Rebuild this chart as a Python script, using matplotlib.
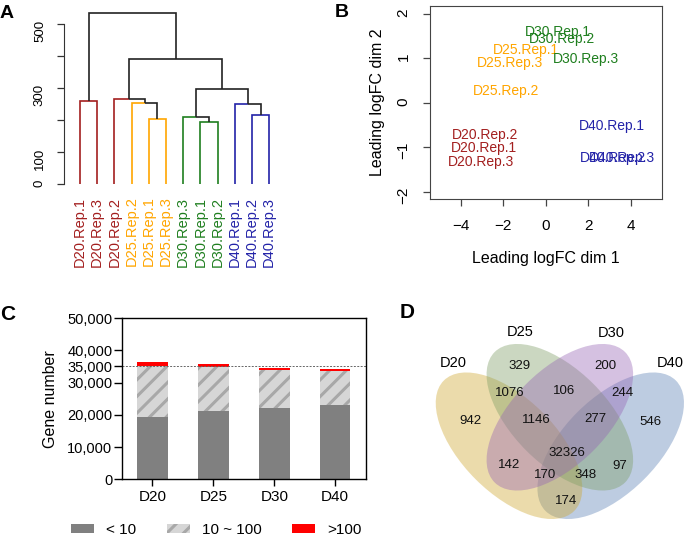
import matplotlib
matplotlib.use("Agg")
import matplotlib.pyplot as plt
import matplotlib.ticker as mticker
from matplotlib.patches import Ellipse, Patch
import numpy as np

plt.rcParams["font.family"] = ["Liberation Sans", "DejaVu Sans"]
plt.rcParams["hatch.color"] = "#A8A8A8"
plt.rcParams["hatch.linewidth"] = 2.2

# ---------------------------------------------------------------------------
# Data
# ---------------------------------------------------------------------------
groups = ["D20", "D25", "D30", "D40"]
group_colors = ["#A31F1F", "#FFA500", "#1F7F1F", "#2323A8"]
color_of = dict(zip(groups, group_colors))

# A - sample clustering (leaf order as drawn)
leaf_labels = ["D20.Rep.1", "D20.Rep.3", "D20.Rep.2", "D25.Rep.2", "D25.Rep.1",
               "D25.Rep.3", "D30.Rep.3", "D30.Rep.1", "D30.Rep.2", "D40.Rep.1",
               "D40.Rep.2", "D40.Rep.3"]
# (child a, child b, height); leaves are 0-11, merged nodes numbered from 12
merges = [(0, 1, 259), (4, 5, 203), (3, 13, 253), (2, 14, 267),
          (7, 8, 194), (6, 16, 209), (10, 11, 217), (9, 18, 249),
          (17, 19, 296), (15, 20, 390), (12, 21, 535)]

# B - MDS plot
mds_labels = ["D20.Rep.1", "D20.Rep.2", "D20.Rep.3", "D25.Rep.1", "D25.Rep.2",
              "D25.Rep.3", "D30.Rep.1", "D30.Rep.2", "D30.Rep.3", "D40.Rep.1",
              "D40.Rep.2", "D40.Rep.3"]
mds_dim1 = [-2.90, -2.86, -3.04, -0.95, -1.85, -1.66, 0.56, 0.77, 1.86, 3.11, 3.15, 3.55]
mds_dim2 = [-1.02, -0.73, -1.34, 1.19, 0.27, 0.89, 1.60, 1.43, 0.99, -0.52, -1.25, -1.25]

# C - gene numbers by expression level
genes_lt10 = np.array([19400, 21100, 22200, 23100])
genes_10_100 = np.array([15700, 13700, 11700, 10450])
genes_gt100 = np.array([1200, 900, 700, 600])
level_labels = ["< 10", "10 ~ 100", ">100"]

# D - Venn counts
venn_counts = [942, 329, 200, 546, 1076, 106, 244, 1146, 277, 32326,
               142, 97, 170, 348, 174]

# ---------------------------------------------------------------------------
# Layout helpers (pixel boxes, origin top-left)
# ---------------------------------------------------------------------------
W, H = 685, 537
fig = plt.figure(figsize=(W / 100, H / 100), dpi=100)


def px_axes(x0, y0, x1, y1):
    return fig.add_axes([x0 / W, 1 - y1 / H, (x1 - x0) / W, (y1 - y0) / H])


def letter(x, y, s, size):
    fig.text(x / W, 1 - y / H, s, fontsize=size, fontweight="bold", va="baseline")


AXIS_COL = "#333333"

# ---------------------------------------------------------------------------
# Panel A - dendrogram
# ---------------------------------------------------------------------------
ax = px_axes(64, 5.1, 284.7, 184)
xpos = {i: float(i) for i in range(len(leaf_labels))}
ypos = {i: 0.0 for i in range(len(leaf_labels))}
for k, (a, b, h) in enumerate(merges):
    node = len(leaf_labels) + k
    xpos[node] = (xpos[a] + xpos[b]) / 2
    ypos[node] = h
    for c in (a, b):
        col = color_of[leaf_labels[c][:3]] if c < len(leaf_labels) else "#222222"
        ax.plot([xpos[node], xpos[c], xpos[c]], [h, h, ypos[c]], color=col,
                lw=1.2, solid_joinstyle="miter", solid_capstyle="butt")

ax.set_xlim(-0.93, 11.9)
ax.set_ylim(0, 560)
for s in ("top", "right", "bottom"):
    ax.spines[s].set_visible(False)
ax.spines["left"].set_bounds(0, 500)
ax.spines["left"].set_color(AXIS_COL)
ax.set_yticks([0, 100, 200, 300, 400, 500], ["0", "100", "", "300", "", "500"])
ax.tick_params(axis="y", labelrotation=90, length=5, width=0.9, color=AXIS_COL,
               pad=8, labelsize=9.5)
ax.set_xticks(range(len(leaf_labels)), leaf_labels, rotation=90, fontsize=10.5)
ax.tick_params(axis="x", length=0, pad=9)
for t, lab in zip(ax.get_xticklabels(), leaf_labels):
    t.set_color(color_of[lab[:3]])

# ---------------------------------------------------------------------------
# Panel B - MDS
# ---------------------------------------------------------------------------
ax = px_axes(430, 6, 661.7, 199.3)
for lab, x, y in zip(mds_labels, mds_dim1, mds_dim2):
    ax.text(x, y, lab, color=color_of[lab[:3]], ha="center", va="center", fontsize=10)
ax.set_xlim(-5.44, 5.44)
ax.set_ylim(-2.17, 2.18)
ax.set_xticks([-4, -2, 0, 2, 4])
ax.set_yticks([-2, -1, 0, 1, 2])
for s in ax.spines.values():
    s.set_color("#444444")
ax.tick_params(length=5, width=0.9, color="#444444", labelsize=11, pad=9)
ax.tick_params(axis="y", labelrotation=90)
ax.set_xlabel("Leading logFC dim 1", fontsize=11.5)
ax.set_ylabel("Leading logFC dim 2", fontsize=11.5)
ax.xaxis.set_label_coords(0.5, -0.265)
ax.yaxis.set_label_coords(-0.194, 0.5)

# ---------------------------------------------------------------------------
# Panel C - stacked bars
# ---------------------------------------------------------------------------
ax = px_axes(122, 318, 365.7, 479.3)
x = np.arange(len(groups))
ax.bar(x, genes_lt10, 0.5, color="#808080", label=level_labels[0])
ax.bar(x, genes_10_100, 0.5, bottom=genes_lt10, color="#D6D6D6", hatch="//",
       label=level_labels[1])
ax.bar(x, genes_gt100, 0.5, bottom=genes_lt10 + genes_10_100, color="#FF0000",
       label=level_labels[2])
ax.axhline(35000, color="#666666", lw=0.7, ls=(0, (2, 1.5)))
ax.set_xlim(-0.5, 3.5)
ax.set_ylim(0, 50000)
ax.set_xticks(x, groups)
ax.set_yticks([0, 10000, 20000, 30000, 35000, 40000, 50000])
ax.yaxis.set_major_formatter(mticker.StrMethodFormatter("{x:,.0f}"))
for s in ax.spines.values():
    s.set_color("black")
    s.set_linewidth(1.0)
ax.tick_params(axis="y", length=6, width=1, labelsize=10.5, pad=1)
ax.tick_params(axis="x", length=5, width=1, labelsize=11, pad=3)
ax.set_ylabel("Gene number", fontsize=11.5)
ax.yaxis.set_label_coords(-0.261, 0.5)

handles = [Patch(facecolor="#808080", label=level_labels[0]),
           Patch(facecolor="#D6D6D6", hatch="//", label=level_labels[1]),
           Patch(facecolor="#FF0000", label=level_labels[2])]
fig.legend(handles=handles, loc="center left", bbox_to_anchor=(71 / W, 1 - 530 / H),
           ncol=3, frameon=False, fontsize=11, handlelength=1.5, handleheight=0.45,
           handletextpad=0.8, columnspacing=2.0, borderpad=0, borderaxespad=0)

# ---------------------------------------------------------------------------
# Panel D - 4-set Venn (drawn in pixel coordinates)
# ---------------------------------------------------------------------------
ax = px_axes(420, 320, 685, 537)
ax.set_xlim(420, 685)
ax.set_ylim(537, 320)
ax.axis("off")
venn_fill = {"D20": "#CFA72E", "D25": "#7D9D64", "D30": "#9664B4", "D40": "#5C80B4"}
ellipse_geo = {"D20": (509.0, 445.75, 45), "D25": (559.85, 417.25, 45),
               "D30": (559.85, 417.25, -45), "D40": (610.7, 445.75, -45)}
# drawing order decides which tint sits on top in the overlaps
for name in ["D40", "D20", "D25", "D30"]:
    cx, cy, ang = ellipse_geo[name]
    ax.add_patch(Ellipse((cx, cy), 184.4, 94.6, angle=ang,
                         facecolor=venn_fill[name], alpha=0.4, lw=0))
set_label_xy = [(453.3, 363.3), (520, 331.7), (611.7, 333.3), (670, 362.7)]
for name, (lx, ly) in zip(groups, set_label_xy):
    ax.text(lx, ly, name, ha="center", va="center", fontsize=10.5)
count_xy = [(470.7, 421), (520, 365.7), (605, 365.7), (650, 421.7),
            (509.3, 392.7), (564, 391), (622.3, 392.7), (536.7, 420),
            (595.7, 419.3), (566.7, 452.7), (509.3, 465), (619.3, 465.7),
            (545, 475), (586, 475), (565.7, 500.7)]
for n, (lx, ly) in zip(venn_counts, count_xy):
    ax.text(lx, ly, str(n), ha="center", va="center", fontsize=9.5, color="#111111")

# panel letters
letter(0, 18.3, "A", 14)
letter(335, 17, "B", 14)
letter(0, 320, "C", 15)
letter(400, 318, "D", 15)

fig.savefig("out.png", dpi=100)
